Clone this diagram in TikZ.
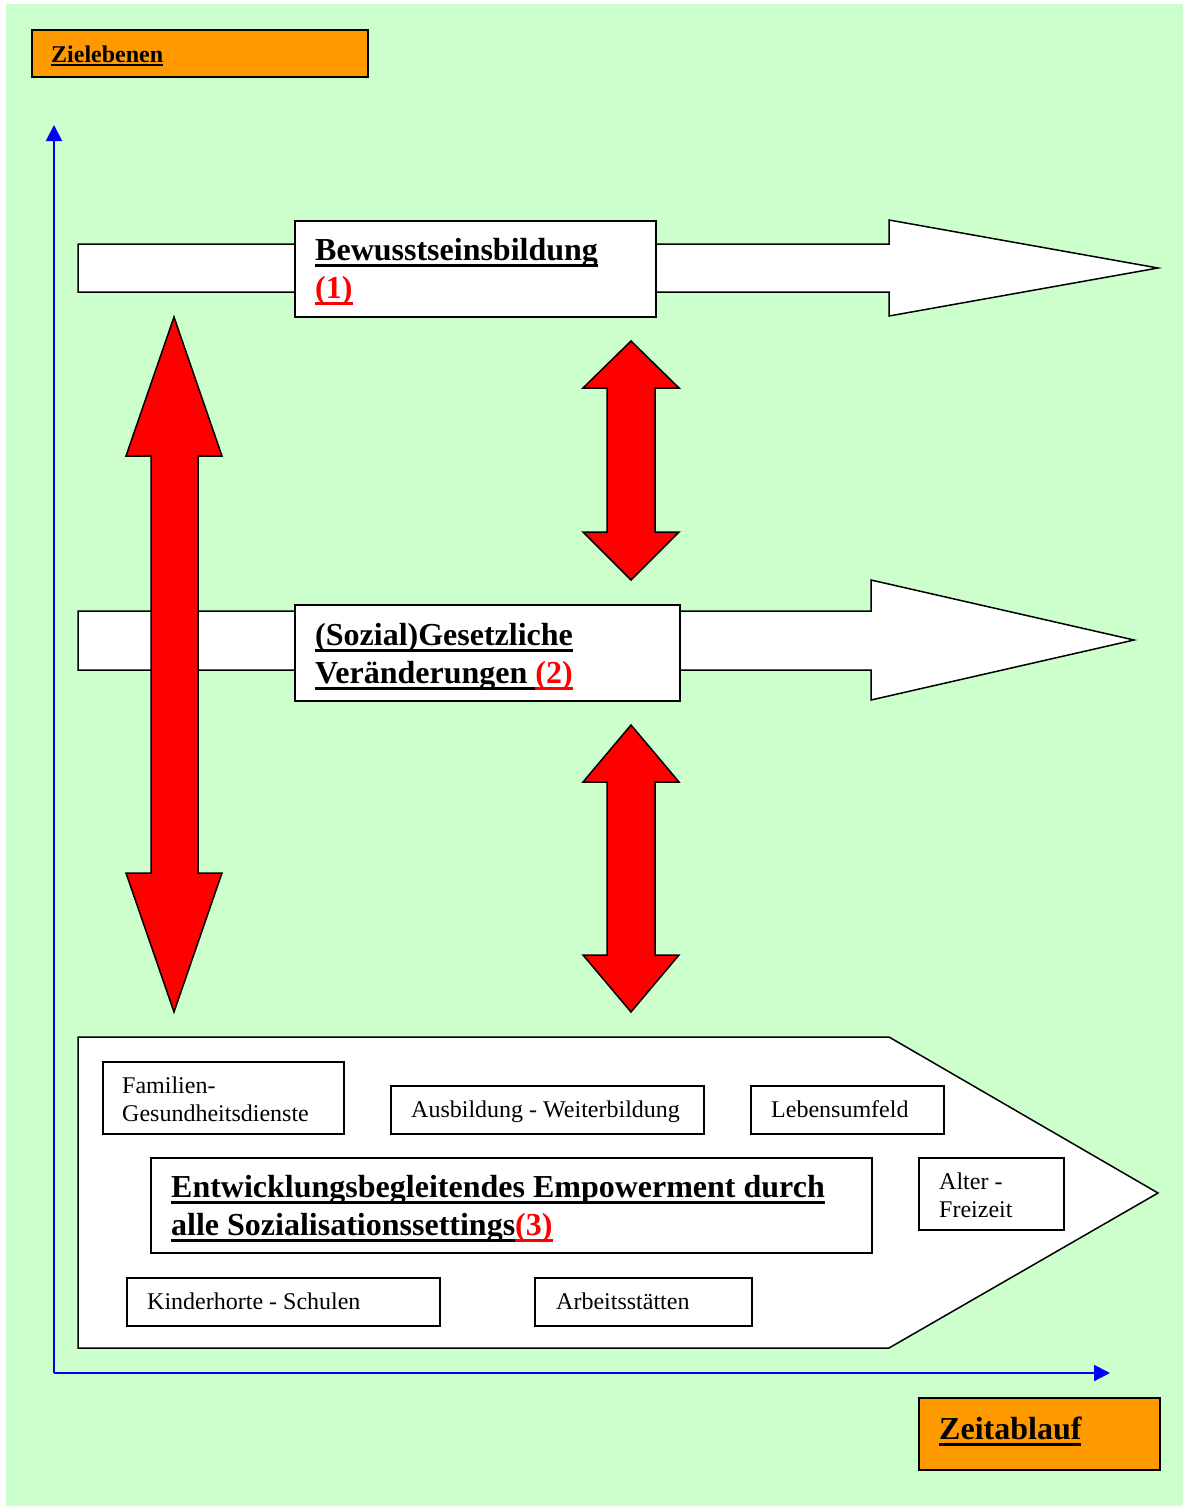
\documentclass[tikz,border=0pt]{standalone}
\usepackage{fontspec}
\setmainfont{Liberation Serif}
\usetikzlibrary{arrows.meta}
\definecolor{bggreen}{HTML}{CCFFCC}
\definecolor{boxorange}{HTML}{FF9900}
\definecolor{arrred}{HTML}{FF0000}
\definecolor{axblue}{HTML}{0000FF}
\newcommand{\ulbig}[1]{\setbox0\hbox{#1}\rlap{\rule[-6.5pt]{\wd0}{3pt}}\box0}
\newcommand{\ulsmall}[1]{\setbox0\hbox{#1}\rlap{\rule[-4pt]{\wd0}{2.5pt}}\box0}
\tikzset{
  outl/.style={draw=black, line width=1.5pt, line join=miter},
  box/.style={outl, fill=white, rectangle, inner sep=0pt, anchor=north west},
  obox/.style={outl, fill=boxorange, rectangle, inner sep=0pt, anchor=north west},
  blockarrow/.style={outl, fill=white},
  redarrow/.style={outl, fill=arrred},
  bigtxt/.style={inner sep=0pt, anchor=base west, font=\fontsize{32}{38}\selectfont\bfseries},
  smalltxt/.style={inner sep=0pt, anchor=base west, font=\fontsize{24}{28}\selectfont},
  axis/.style={draw=axblue, line width=2pt, -{Triangle[length=16pt,width=16pt]}}
}
\begin{document}
\begin{tikzpicture}[x=1pt,y=-1pt]
\useasboundingbox (0,0) rectangle (1189,1508);
\fill[bggreen] (6,4) rectangle (1183,1506);

% Zielebenen
\node[obox, minimum width=336pt, minimum height=47pt] (ziel) at (31,29) {};
\node[inner sep=0pt, anchor=base west, font=\fontsize{24}{28}\selectfont\bfseries] (zieltxt) at (51,62) {\ulsmall{Zielebenen}};

% block arrow 1
\draw[blockarrow] (78,244)--(889,244)--(889,220)--(1158,268)--(889,316)--(889,292)--(78,292)--cycle;
\node[box, minimum width=361pt, minimum height=96pt] (b1) at (294,220) {};
\node[bigtxt] (b1a) at (315,260) {\ulbig{Bewusstseinsbildung}};
\node[bigtxt] (b1b) at (315,298) {\color{arrred}\ulbig{(1)}};

% block arrow 2
\draw[blockarrow] (78,611)--(871,611)--(871,580)--(1134,640)--(871,700)--(871,670)--(78,670)--cycle;
\node[box, minimum width=385pt, minimum height=96pt] (b2) at (294,604) {};
\node[bigtxt] (b2a) at (315,645) {\ulbig{(Sozial)Gesetzliche}};
\node[bigtxt] (b2b) at (315,683) {\ulbig{Veränderungen }{\color{arrred}\ulbig{(2)}}};

% red double arrows
\draw[redarrow] (174,317)--(222,456)--(198,456)--(198,873)--(222,873)--(174,1012)--(126,873)--(151,873)--(151,456)--(126,456)--cycle;
\draw[redarrow] (631,341)--(679,388)--(655,388)--(655,532)--(679,532)--(631,580)--(583,532)--(607,532)--(607,388)--(583,388)--cycle;
\draw[redarrow] (631,725)--(679,782)--(655,782)--(655,955)--(679,955)--(631,1012)--(583,955)--(607,955)--(607,782)--(583,782)--cycle;

% pentagon
\draw[blockarrow] (78,1037)--(889,1037)--(1158,1193)--(889,1348)--(78,1348)--cycle;

\node[box, minimum width=241pt, minimum height=72pt] (fam) at (102,1061) {};
\node[smalltxt] (fama) at (122,1093) {Familien-};
\node[smalltxt] (famb) at (122,1121) {Gesundheitsdienste};

\node[box, minimum width=313pt, minimum height=48pt] (aus) at (390,1085) {};
\node[smalltxt] (austxt) at (411,1117) {Ausbildung - Weiterbildung};

\node[box, minimum width=193pt, minimum height=48pt] (leb) at (750,1085) {};
\node[smalltxt] (lebtxt) at (771,1117) {Lebensumfeld};

\node[box, minimum width=721pt, minimum height=95pt] (main) at (150,1157) {};
\node[bigtxt] (maina) at (171,1197) {\ulbig{Entwicklungsbegleitendes Empowerment durch}};
\node[bigtxt] (mainb) at (171,1235) {\ulbig{alle Sozialisationssettings}{\color{arrred}\ulbig{(3)}}};

\node[box, minimum width=145pt, minimum height=72pt] (alt) at (918,1157) {};
\node[smalltxt] (alta) at (939,1189) {Alter -};
\node[smalltxt] (altb) at (939,1217) {Freizeit};

\node[box, minimum width=313pt, minimum height=48pt] (kin) at (126,1277) {};
\node[smalltxt] (kintxt) at (147,1309) {Kinderhorte - Schulen};

\node[box, minimum width=217pt, minimum height=48pt] (arb) at (534,1277) {};
\node[smalltxt] (arbtxt) at (556,1309) {Arbeitsstätten};

% axes
\coordinate (O) at (54,1373);
\coordinate (ytip) at (54,125);
\coordinate (xtip) at (1110,1373);
\draw[axis] (O) -- (ytip);
\draw[axis] (O) -- (xtip);

% Zeitablauf
\node[obox, minimum width=241pt, minimum height=72pt] (zeit) at (918,1397) {};
\node[bigtxt] (zeittxt) at (939,1439) {\ulbig{Zeitablauf}};
\end{tikzpicture}
\end{document}
